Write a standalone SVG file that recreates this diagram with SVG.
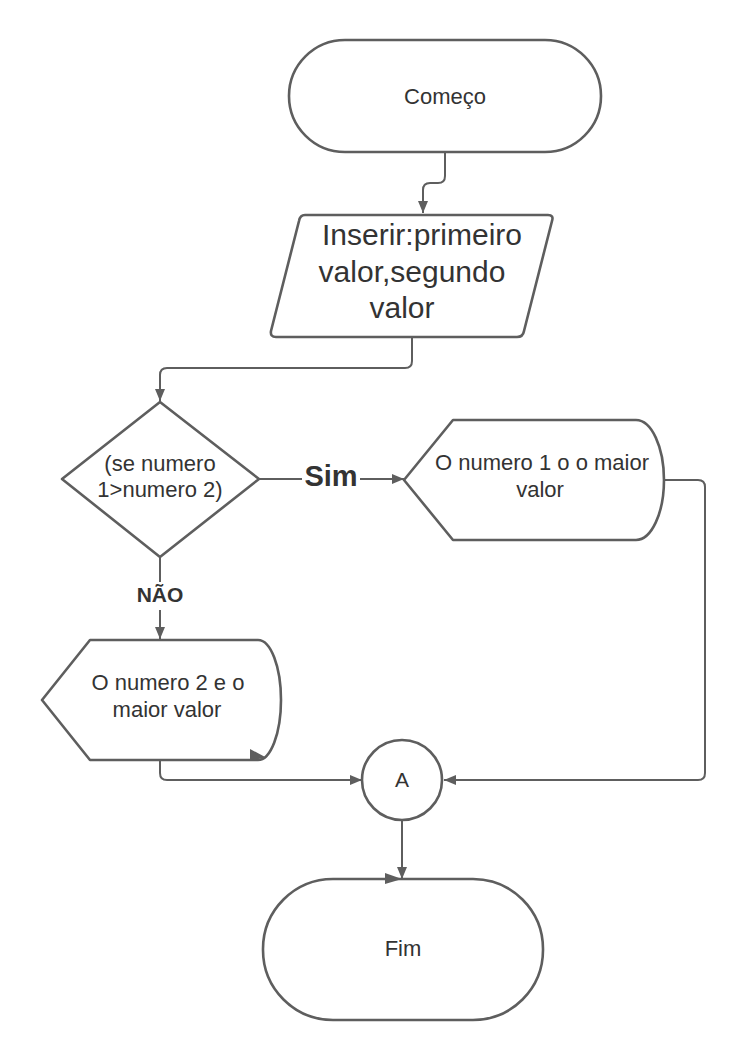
<svg xmlns="http://www.w3.org/2000/svg" width="744" height="1060" viewBox="0 0 744 1060">
<style>
.shape{fill:#fff;stroke:#5e5e5e;stroke-width:2.6;stroke-linejoin:round}
.conn{fill:none;stroke:#5e5e5e;stroke-width:2}
.t{font-family:"Liberation Sans",Arial,sans-serif;fill:#333;text-anchor:middle}
.tb{font-family:"Liberation Sans",Arial,sans-serif;fill:#333;text-anchor:middle;font-weight:bold}
.ah{fill:#5e5e5e}
</style>
<defs>
<marker id="arr" markerUnits="userSpaceOnUse" markerWidth="13" markerHeight="12" refX="12" refY="6" orient="auto">
<path d="M0,1 L12,6 L0,11 Z" fill="#5e5e5e"/>
</marker>
</defs>
<rect width="744" height="1060" fill="#fff"/>
<g id="connectors">
<path class="conn" d="M445,152 V176 Q445,183 438,183 H430 Q423,183 423,190 V213" marker-end="url(#arr)"/>
<path class="conn" d="M412,337 V361 Q412,368 405,368 H167 Q160,368 160,375 V401" marker-end="url(#arr)"/>
<path class="conn" d="M259,479 H302"/>
<path class="conn" d="M360,479 H404" marker-end="url(#arr)"/>
<path class="conn" d="M160,557 V582"/>
<path class="conn" d="M160,610 V639" marker-end="url(#arr)"/>
<path class="conn" d="M664,480 H698 Q705,480 705,487 V773 Q705,780 698,780 H444" marker-end="url(#arr)"/>
<path class="conn" d="M160,760 V773 Q160,780 167,780 H362" marker-end="url(#arr)"/>
<path class="conn" d="M402,820 V879" marker-end="url(#arr)"/>
<text class="tb" x="331" y="486" font-size="29">Sim</text>
<text class="tb" x="160" y="602" font-size="21">NÃO</text>
</g>
<g id="start">
<rect class="shape" x="289" y="40" width="312" height="112" rx="56" ry="56"/>
<text class="t" x="445" y="104" font-size="22">Começo</text>
</g>
<g id="input">
<path class="shape" d="M305,215 H548 Q554,215 552,221 L524,331 Q523,337 517,337 H276 Q270,337 271,331 L299,221 Q300,215 305,215 Z"/>
<text class="t" font-size="30"><tspan x="422" y="245">Inserir:primeiro</tspan><tspan x="412" y="282">valor,segundo</tspan><tspan x="402" y="318">valor</tspan></text>
</g>
<g id="decision">
<polygon class="shape" points="160,402 259,479 160,557 62,479"/>
<text class="t" font-size="22"><tspan x="160" y="471">(se numero</tspan><tspan x="160" y="497">1&gt;numero 2)</tspan></text>
</g>
<g id="display1">
<path class="shape" d="M404,480 L453,420 L636,420 A28,60 0 0 1 636,540 L453,540 Z"/>
<text class="t" font-size="22"><tspan x="542" y="470">O numero 1 o o maior</tspan><tspan x="540" y="497">valor</tspan></text>
</g>
<g id="display2">
<path class="shape" d="M42,700 L90,640 L258,640 A23,60 0 0 1 258,760 L90,760 Z"/>
<text class="t" font-size="22"><tspan x="168" y="690">O numero 2 e o</tspan><tspan x="167" y="717">maior valor</tspan></text>
<polygon class="ah" points="250,749 250,760 267,758"/>
</g>
<g id="connectorA">
<circle class="shape" cx="402" cy="780" r="40"/>
<text class="t" x="402" y="787" font-size="21">A</text>
</g>
<g id="end">
<rect class="shape" x="263" y="879" width="280" height="141" rx="70" ry="70"/>
<text class="t" x="403" y="956" font-size="22">Fim</text>
<polygon class="ah" points="385,873 385,884 402,879"/>
</g>
</svg>
